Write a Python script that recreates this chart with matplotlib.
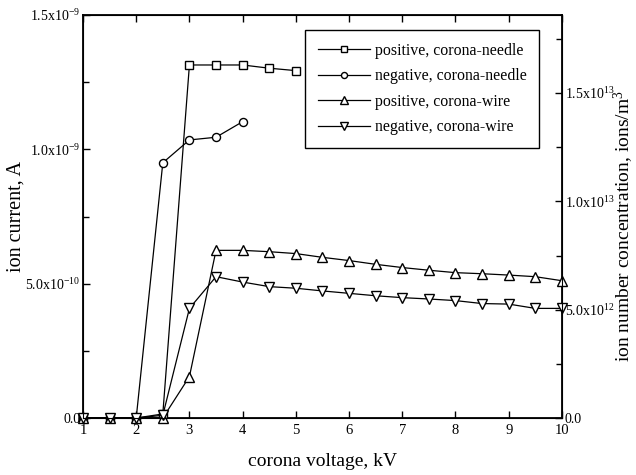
import numpy as np
import matplotlib
matplotlib.use("Agg")
import matplotlib.pyplot as plt
from matplotlib.ticker import FixedLocator, FixedFormatter, MultipleLocator

plt.rcParams['font.family'] = ['Liberation Serif', 'DejaVu Serif']
plt.rcParams['mathtext.fontset'] = 'custom'
plt.rcParams['mathtext.rm'] = 'Liberation Serif'
plt.rcParams['mathtext.it'] = 'Liberation Serif:italic'

# corona voltage, kV
voltage = [1, 1.5, 2, 2.5, 3, 3.5, 4, 4.5, 5, 5.5, 6, 6.5, 7, 7.5, 8, 8.5, 9, 9.5, 10]

# ion current, A
pos_needle_v = [1, 1.5, 2, 2.5, 3, 3.5, 4, 4.5, 5]
pos_needle = [0, 0, 0, 0.015e-9, 1.314e-9, 1.314e-9, 1.314e-9, 1.302e-9, 1.293e-9]

neg_needle_v = [1, 1.5, 2, 2.5, 3, 3.5, 4]
neg_needle = [0, 0, 0, 0.950e-9, 1.035e-9, 1.045e-9, 1.103e-9]

pos_wire = [0, 0, 0, 0, 1.54e-10, 6.24e-10, 6.24e-10, 6.19e-10, 6.12e-10, 5.98e-10,
            5.86e-10, 5.72e-10, 5.60e-10, 5.50e-10, 5.41e-10, 5.37e-10, 5.32e-10,
            5.26e-10, 5.11e-10]
neg_wire = [0, 0, 0, 0.01e-9, 4.08e-10, 5.26e-10, 5.06e-10, 4.89e-10, 4.83e-10, 4.73e-10,
            4.64e-10, 4.55e-10, 4.48e-10, 4.43e-10, 4.37e-10, 4.26e-10, 4.24e-10,
            4.08e-10, 4.08e-10]

labels = ['positive, corona-needle', 'negative, corona-needle',
          'positive, corona-wire', 'negative, corona-wire']

left_ticks = [0, 5e-10, 1e-9, 1.5e-9]
left_ticklabels = ['0.0', r'5.0x10$^{-10}$', r'1.0x10$^{-9}$', r'1.5x10$^{-9}$']
right_ticks = [0, 5e12, 1e13, 1.5e13]
right_ticklabels = ['0.0', r'5.0x10$^{12}$', r'1.0x10$^{13}$', r'1.5x10$^{13}$']

fig = plt.figure(figsize=(6.36, 4.75), dpi=100)
ax = fig.add_axes([0.1305, 0.12, 0.753, 0.8484])

mk = dict(color='black', lw=0.9, mfc='white', mec='black', mew=1.0, clip_on=False,
          zorder=3)
ax.plot(pos_needle_v, pos_needle, marker='s', ms=5.5, label=labels[0], **mk)
ax.plot(neg_needle_v, neg_needle, marker='o', ms=5.8, label=labels[1], **mk)
ax.plot(voltage, pos_wire, marker='^', ms=7.5, label=labels[2], **mk)
ax.plot(voltage, neg_wire, marker='v', ms=7.5, label=labels[3], **mk)

ax.set_xlim(1, 10)
ax.set_ylim(0, 1.5e-9)
ax.xaxis.set_major_locator(MultipleLocator(1))
ax.yaxis.set_major_locator(FixedLocator(left_ticks))
ax.yaxis.set_major_formatter(FixedFormatter(left_ticklabels))
ax.yaxis.set_minor_locator(MultipleLocator(2.5e-10))
ax.tick_params(axis='both', which='both', direction='in', top=True, labelsize=10,
               width=1.0, pad=2)
ax.tick_params(axis='both', which='major', length=5)
ax.tick_params(axis='y', which='minor', length=4)
ax.tick_params(axis='x', which='major', pad=4, labelsize=10.5)
for s in ax.spines.values():
    s.set_linewidth(1.3)

ax.set_xlabel('corona voltage, kV', fontsize=14, labelpad=12)
ax.set_ylabel('ion current, A', fontsize=14.5, labelpad=0)

ax2 = ax.twinx()
ax2.set_ylim(0, 1.86e13)
ax2.yaxis.set_major_locator(FixedLocator(right_ticks))
ax2.yaxis.set_major_formatter(FixedFormatter(right_ticklabels))
ax2.yaxis.set_minor_locator(MultipleLocator(2.5e12))
ax2.tick_params(axis='y', which='both', direction='in', labelsize=10, width=1.0, pad=2)
ax2.tick_params(axis='y', which='major', length=5)
ax2.tick_params(axis='y', which='minor', length=4)
ax2.set_ylabel(r'ion number concentration, ions/m$^3$', fontsize=14)
ax2.yaxis.set_label_coords(1.104, 0.475)

leg = ax.legend(loc='upper left', bbox_to_anchor=(0.4635, 0.963), fontsize=11.4,
                frameon=True, fancybox=False, edgecolor='black', framealpha=1,
                handlelength=3.3, labelspacing=0.6, borderpad=0.8, handletextpad=0.3,
                borderaxespad=0, markerscale=0.75)
leg.get_frame().set_linewidth(1.0)

fig.savefig('out.png', dpi=100)
